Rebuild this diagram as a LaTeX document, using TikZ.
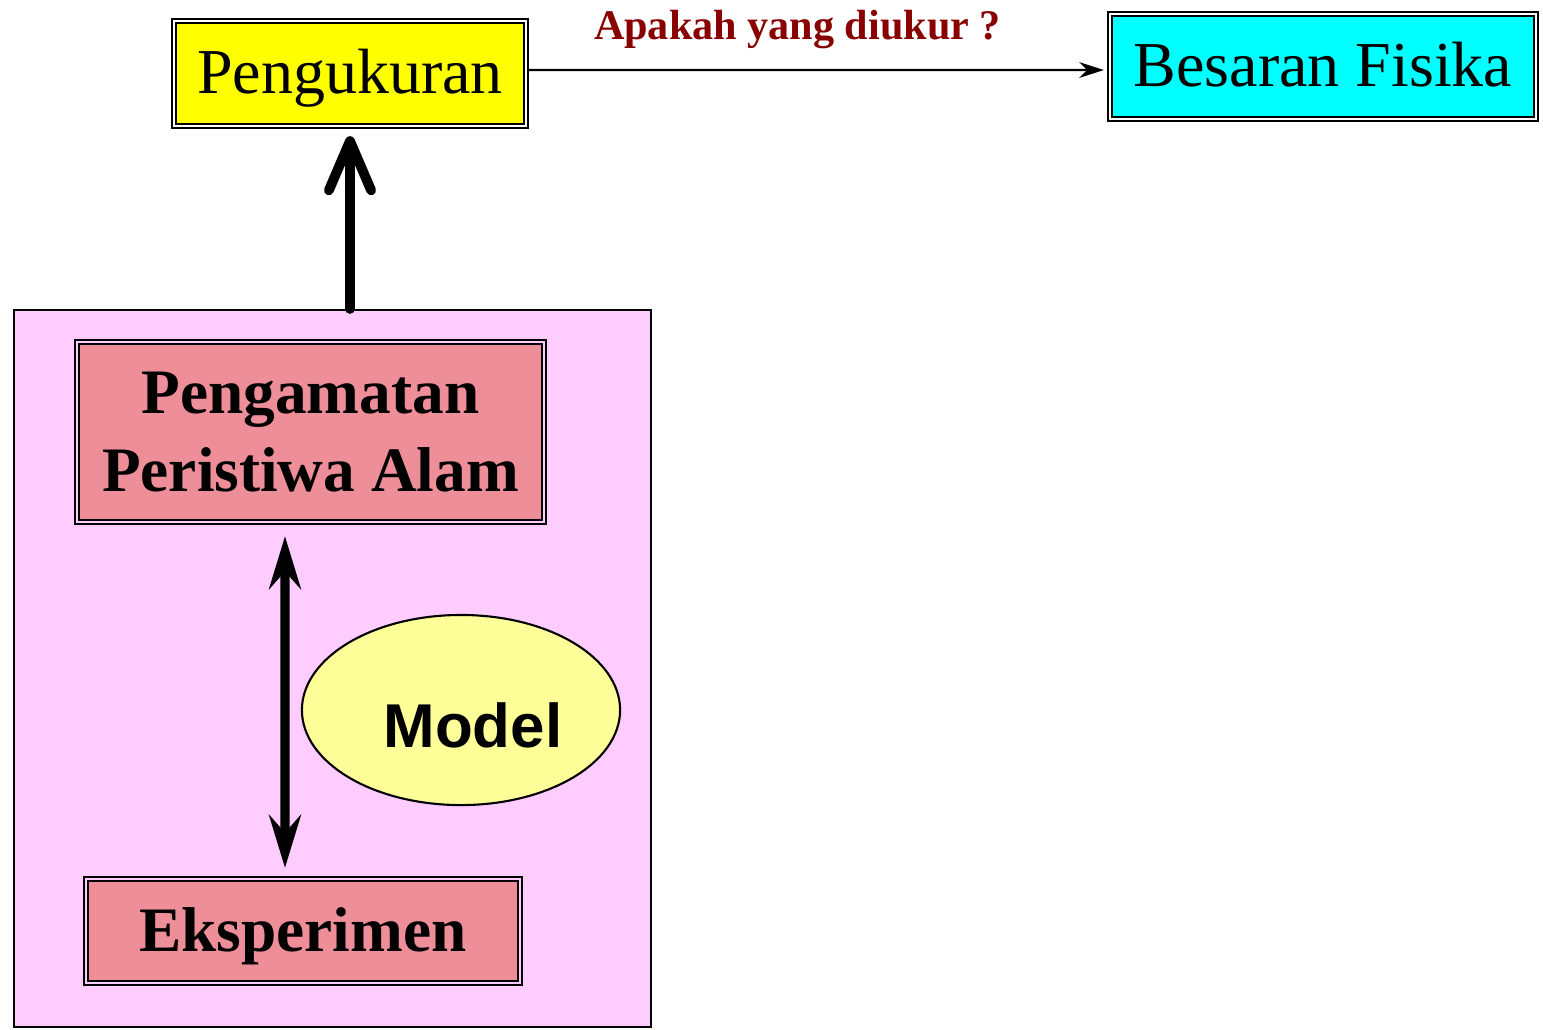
\documentclass[tikz,border=0pt]{standalone}
\usepackage{fontspec}
\setmainfont{Liberation Serif}
\newfontfamily\modelfont{Liberation Sans}
\usetikzlibrary{arrows.meta,shapes.geometric}
\definecolor{kuning}{HTML}{FFFF00}
\definecolor{biru}{HTML}{00FFFF}
\definecolor{lembayung}{HTML}{FFCCFF}
\definecolor{merahmuda}{HTML}{EE8E99}
\definecolor{krem}{HTML}{FFFF99}
\definecolor{merahtua}{HTML}{880000}
\begin{document}
\begin{tikzpicture}[x=0.01cm,y=-0.01cm]
    \tikzset{kotak/.style={draw, line width=0.6pt, double distance=0.6pt,
            inner sep=0pt, align=center},
        judul/.style={kotak, double=white, text height=0.45cm, text depth=0.06cm,
            font=\fontsize{18.2}{22}\selectfont},
        tebal/.style={kotak, double=lembayung, fill=merahmuda,
            font=\fontsize{18}{22}\selectfont\bfseries},
        panah/.style={-{Stealth[length=7pt,width=4.5pt]}, line width=0.6pt},
        panahbesar/.style={-{Straight Barb[length=14pt,width=12pt,round]},
            line width=2.8pt, line cap=round},
        panahdua/.style={{Stealth[length=15pt,width=9pt,inset=5pt]}-{Stealth[length=15pt,width=9pt,inset=5pt]},
            line width=2.6pt}}
    \useasboundingbox (0,0) rectangle (1543,1029);
    \node[draw, line width=0.5pt, fill=lembayung, minimum width=6.37cm,
        minimum height=7.17cm] (panel) at (332.5,668.5) {};
    \node[judul, fill=kuning, minimum width=3.52cm, minimum height=1.05cm]
        (ukur) at (350,73.5) {Pengukuran};
    \node[judul, fill=biru, minimum width=4.26cm, minimum height=1.05cm]
        (besaran) at (1323,66.5) {Besaran Fisika};
    \node[tebal, minimum width=4.67cm, minimum height=1.80cm]
        (amati) at (310.5,432) {Pengamatan\\Peristiwa Alam};
    \node[tebal, minimum width=4.34cm, minimum height=1.04cm, text depth=0.02cm]
        (eksp) at (303,931) {Eksperimen};
    \node[ellipse, draw, line width=0.6pt, fill=krem, minimum width=3.18cm,
        minimum height=1.9cm,
        label={[font=\fontsize{17.6}{20}\modelfont\bfseries, xshift=0.12cm,
            yshift=-0.15cm]center:Model}] (model) at (461,710) {};
    \draw[panah] ([yshift=0.035cm]ukur.east) -- ([xshift=-0.05cm,yshift=-0.035cm]besaran.west)
        node[midway, above=0.08cm, xshift=-0.18cm, text=merahtua,
        font=\fontsize{12}{14}\selectfont\bfseries] (tanya) {Apakah yang diukur ?};
    \draw[panahbesar] (panel.north -| ukur.south) -- ([yshift=-0.09cm]ukur.south);
    \draw[panahdua] ([xshift=-0.255cm,yshift=-0.13cm]amati.south)
        -- ([xshift=-0.18cm,yshift=0.1cm]eksp.north);
\end{tikzpicture}
\end{document}
